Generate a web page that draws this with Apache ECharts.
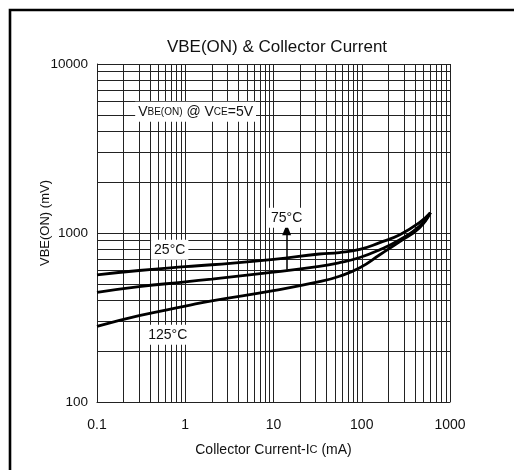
<!DOCTYPE html>
<html>
<head>
<meta charset="utf-8">
<script src="https://cdn.jsdelivr.net/npm/echarts@6/dist/echarts.min.js"></script>
<style>html,body{margin:0;padding:0;background:#fff;}#c{width:514px;height:470px;}</style>
</head>
<body>
<div id="c"></div>
<script>
// Collector current (mA)
const currentMA = [0.1, 0.3, 1, 2, 10, 33, 56, 95, 160, 270, 450, 600];
// VBE(ON) in mV
const vbe25 = [566, 600, 632, 649, 698, 751, 766, 800, 877, 977, 1151, 1318];
const vbe75 = [445, 481, 514, 534, 587, 634, 667, 716, 796, 913, 1094, 1318];
const vbe125 = [280, 324, 369, 397, 456, 515, 555, 623, 744, 890, 1071, 1318];

const xTickValues = [0.1, 1, 10, 100, 1000];
const xTickLabels = ['0.1', '1', '10', '100', '1000'];
const yTickValues = [100, 1000, 10000];
const yTickLabels = ['100', '1000', '10000'];

// grid lines at 1..9 x each decade
const xGridValues = [0.1,0.2,0.3,0.4,0.5,0.6,0.7,0.8,0.9,1,2,3,4,5,6,7,8,9,10,20,30,40,50,60,70,80,90,100,200,300,400,500,600,700,800,900,1000];
const yGridValues = [100,200,300,400,500,600,700,800,900,1000,2000,3000,4000,5000,6000,7000,8000,9000,10000];

// annotations in data coordinates
const notes = [
  {x: 0.667, y: 796, text: '25°C'},
  {x: 0.633, y: 250, text: '125°C'},
  {x: 14.1, y: 1232, text: '75°C'},
  {x: 1.31, y: 5212, text: 'V{s|BE(ON)} @ V{s|CE}=5V'}
];
const arrowFrom = [14.1, 606];
const arrowTo = [14.1, 1046];

const FONT = 'Liberation Sans, Arial, sans-serif';
const chart = echarts.init(document.getElementById('c'), null, {renderer: 'canvas'});

function lab(vals, labels) {
  return function (v) {
    for (let i = 0; i < vals.length; i++) {
      if (Math.abs(Math.log10(v) - Math.log10(vals[i])) < 1e-6) return labels[i];
    }
    return '';
  };
}

const zip = (a, b) => a.map((v, i) => [v, b[i]]);

const curveStyle = {color: '#000', width: 2.8};

chart.setOption({
  animation: false,
  backgroundColor: '#fff',
  grid: {left: 97, right: 64, top: 64, bottom: 68},
  xAxis: {
    type: 'log', logBase: 10, min: 0.1, max: 1000,
    axisLine: {show: true, lineStyle: {color: '#222', width: 1}},
    axisTick: {show: false},
    splitLine: {show: false},
    axisLabel: {formatter: lab(xTickValues, xTickLabels), color: '#111', fontFamily: FONT, fontSize: 14, margin: 16, showMaxLabel: true, showMinLabel: true},
    name: 'Collector Current-I{s|C} (mA)',
    nameLocation: 'middle', nameGap: 41,
    nameTextStyle: {color: '#111', fontFamily: FONT, fontSize: 14, rich: {s: {fontSize: 11, fontFamily: FONT, color: '#111'}}}
  },
  yAxis: {
    type: 'log', logBase: 10, min: 100, max: 10000,
    axisLine: {show: true, lineStyle: {color: '#222', width: 1}},
    axisTick: {show: false},
    splitLine: {show: false},
    axisLabel: {formatter: lab(yTickValues, yTickLabels), color: '#111', fontFamily: FONT, fontSize: 13.5, margin: 9, showMaxLabel: true, showMinLabel: true}
  },
  series: [
    {
      type: 'line', data: [[0.1, 100]], symbol: 'none', lineStyle: {width: 0}, silent: true, z: 1,
      markLine: {
        silent: true, symbol: ['none', 'none'], animation: false,
        label: {show: false},
        lineStyle: {color: '#222', width: 1, type: 'solid'},
        data: xGridValues.map(v => ({xAxis: v})).concat(yGridValues.map(v => ({yAxis: v})))
      }
    },
    {type: 'line', name: '25°C', data: zip(currentMA, vbe25), smooth: 0.5, symbol: 'none', lineStyle: curveStyle, z: 5},
    {type: 'line', name: '75°C', data: zip(currentMA, vbe75), smooth: 0.5, symbol: 'none', lineStyle: curveStyle, z: 5},
    {type: 'line', name: '125°C', data: zip(currentMA, vbe125), smooth: 0.5, symbol: 'none', lineStyle: curveStyle, z: 5,
      markLine: {
        silent: true, animation: false, symbol: ['none', 'triangle'], symbolSize: [9, 11],
        label: {show: false},
        lineStyle: {color: '#000', width: 1.5, type: 'solid'},
        data: [[{coord: arrowFrom}, {coord: arrowTo}]]
      }
    }
  ]
});

const g = [
  {type: 'rect', shape: {x: 10, y: 10, width: 700, height: 700}, style: {fill: 'none', stroke: '#000', lineWidth: 2.6}, z: 100},
  {type: 'text', x: 277, y: 47, style: {text: 'VBE(ON) & Collector Current', fontFamily: FONT, fontSize: 17, fill: '#111', textAlign: 'center', textVerticalAlign: 'middle'}, z: 100},
  {type: 'text', x: 45, y: 223, rotation: Math.PI / 2, style: {text: 'VBE(ON) (mV)', fontFamily: FONT, fontSize: 13, fill: '#111', textAlign: 'center', textVerticalAlign: 'middle'}, z: 100}
];
notes.forEach(n => {
  const p = chart.convertToPixel({gridIndex: 0}, [n.x, n.y]);
  g.push({
    type: 'text', x: p[0], y: p[1], z: 50,
    style: {
      text: n.text, fontFamily: FONT, fontSize: 14, fill: '#111',
      textAlign: 'center', textVerticalAlign: 'middle',
      backgroundColor: '#fff', padding: [3, 3, 3, 3],
      rich: {s: {fontSize: 10, fontFamily: FONT, fill: '#111'}}
    }
  });
});
chart.setOption({graphic: g});
</script>
</body>
</html>
